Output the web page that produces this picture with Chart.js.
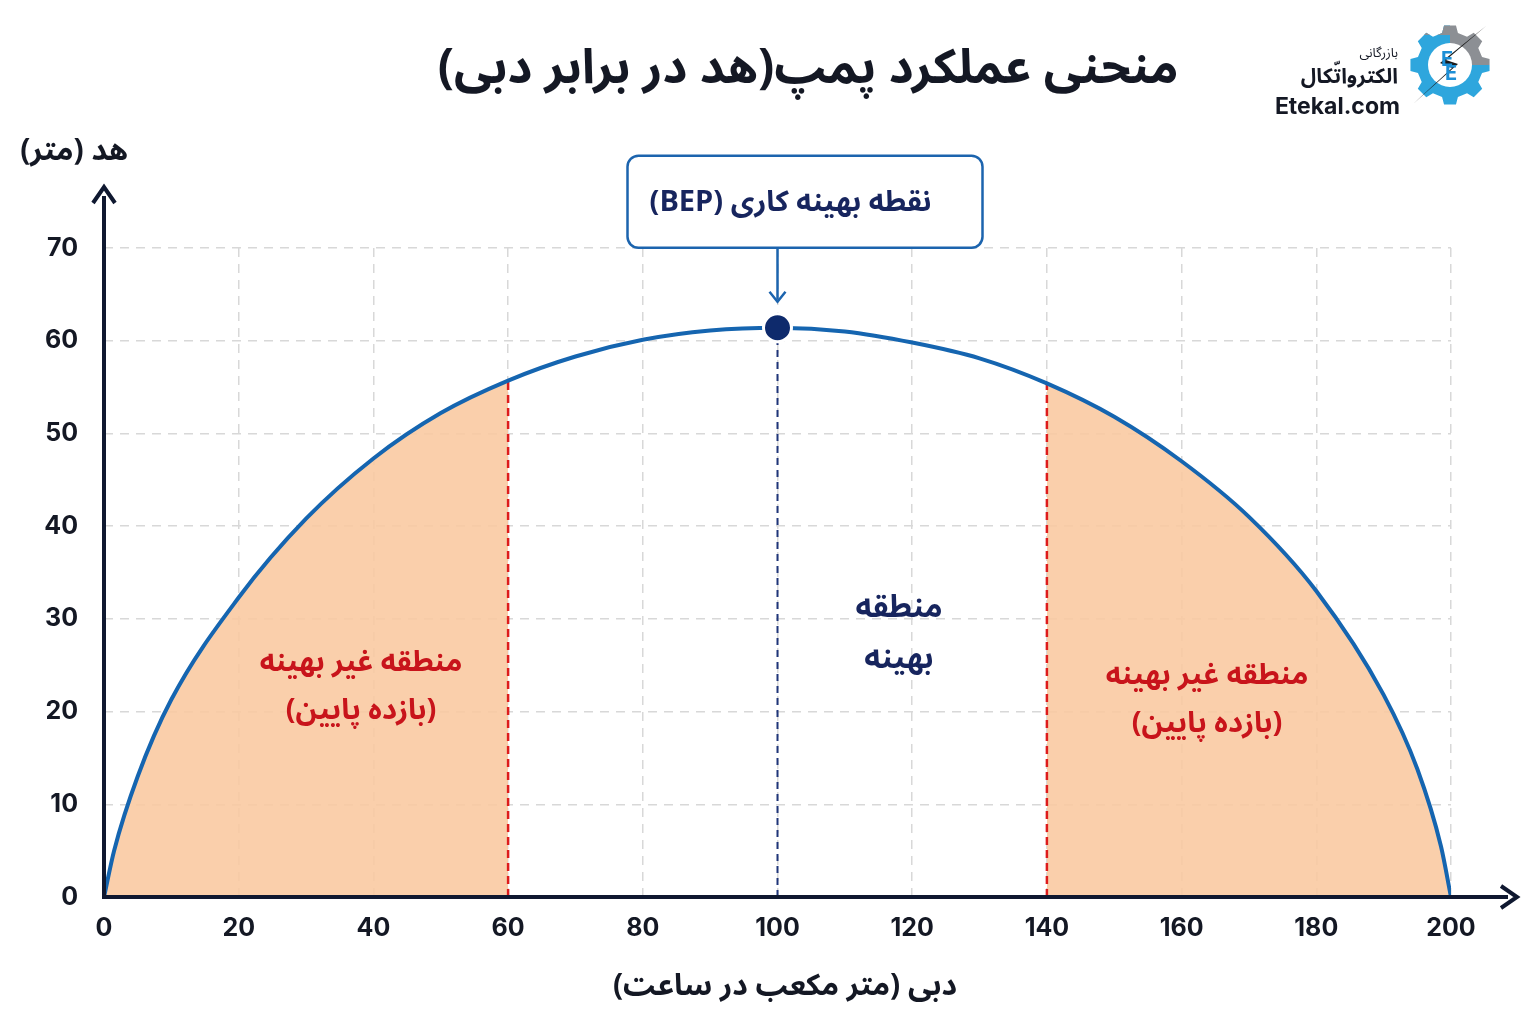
<!DOCTYPE html>
<html lang="fa">
<head>
<meta charset="utf-8">
<title>منحنی عملکرد پمپ</title>
<script src="https://cdn.jsdelivr.net/npm/chart.js@4.4.1/dist/chart.umd.min.js"></script>
<style>
  html, body { margin: 0; padding: 0; background: #fff; }
  canvas { display: block; }
</style>
</head>
<body>
<canvas id="pumpChart" width="1536" height="1024"></canvas>
<script>
// داده‌های منحنی (دبی بر حسب متر مکعب در ساعت، هد بر حسب متر)
const flow = [0, 1.5, 5, 10, 20, 30, 40, 50, 60, 70, 80, 90, 100, 110, 120, 130, 140, 150, 160, 170, 180, 190, 195, 198.5, 200];
const head = [0, 5, 13, 21.3, 32.3, 40.8, 47.3, 52.2, 55.7, 58.3, 60.1, 61.1, 61.4, 61.0, 59.8, 58.1, 55.4, 51.8, 47.0, 41.0, 33.0, 21.8, 13.8, 5.5, 0];

// مناطق
const lowLeft = [0, 60];
const lowRight = [140, 200];
const bepFlow = 100;
const bepHead = 61.4;

// تیک‌ها
const xTicks = [0, 20, 40, 60, 80, 100, 120, 140, 160, 180, 200];
const yTicks = [0, 10, 20, 30, 40, 50, 60, 70];

const curve = flow.map((q, i) => ({ x: q, y: head[i] }));
const inRange = (r) => curve.filter(p => p.x >= r[0] && p.x <= r[1]);
const headAt = (q) => head[flow.indexOf(q)];

const faFont = '"Noto Sans Arabic", "DejaVu Sans", sans-serif';
const numFont = 'Inter, "DejaVu Sans", sans-serif';
const navy = '#17255e';
const ink = '#141824';

const decorations = {
    id: 'decorations',
    afterDatasetsDraw(chart) {
        const { ctx, chartArea, scales } = chart;
        const x0 = chartArea.left, y0 = chartArea.bottom;

        ctx.save();
        // محورها با فلش
        ctx.strokeStyle = '#0f1830';
        ctx.fillStyle = '#0f1830';
        ctx.lineWidth = 4;
        ctx.lineCap = 'butt';
        ctx.beginPath();
        ctx.moveTo(x0, y0 + 2);
        ctx.lineTo(x0, 196);
        ctx.moveTo(x0 - 2, y0);
        ctx.lineTo(1508, y0);
        ctx.stroke();
        ctx.lineJoin = 'miter';
        ctx.beginPath();
        ctx.moveTo(x0 - 11, 203);
        ctx.lineTo(x0, 187);
        ctx.lineTo(x0 + 11, 203);
        ctx.moveTo(1501, y0 - 11);
        ctx.lineTo(1517, y0);
        ctx.lineTo(1501, y0 + 11);
        ctx.stroke();

        // کادر نقطه بهینه
        const px = scales.x.getPixelForValue(bepFlow);
        const py = scales.y.getPixelForValue(bepHead);
        const bx = px - 150, bw = 355, by = py - 172, bh = 92;
        ctx.fillStyle = '#fff';
        ctx.strokeStyle = '#1c64ae';
        ctx.lineWidth = 2.5;
        ctx.beginPath();
        ctx.roundRect(bx, by, bw, bh, 11);
        ctx.fill();
        ctx.stroke();
        ctx.beginPath();
        ctx.moveTo(px, by + bh);
        ctx.lineTo(px, py - 28);
        ctx.stroke();
        ctx.beginPath();
        ctx.moveTo(px - 8, py - 36);
        ctx.lineTo(px, py - 26);
        ctx.lineTo(px + 8, py - 36);
        ctx.stroke();

        ctx.direction = 'rtl';
        ctx.textAlign = 'center';
        ctx.textBaseline = 'middle';
        ctx.fillStyle = navy;
        ctx.font = 'bold 29px ' + faFont;
        ctx.fillText('نقطه بهینه کاری (BEP)', px + 13, by + 51);

        // متن مناطق
        ctx.fillStyle = '#c8141b';
        ctx.font = 'bold 29px ' + faFont;
        ctx.fillText('منطقه غیر بهینه', 361, 667);
        ctx.fillText('(بازده پایین)', 361, 715);
        ctx.fillText('منطقه غیر بهینه', 1207, 680);
        ctx.fillText('(بازده پایین)', 1207, 728);
        ctx.fillStyle = navy;
        ctx.font = 'bold 31px ' + faFont;
        ctx.fillText('منطقه', 899, 612);
        ctx.fillText('بهینه', 899, 663);

        // عنوان‌ها
        ctx.fillStyle = ink;
        ctx.font = 'bold 48px ' + faFont;
        ctx.fillText('منحنی عملکرد پمپ(هد در برابر دبی)', 808, 76);
        ctx.font = 'bold 30px ' + faFont;
        ctx.fillText('هد (متر)', 74, 155);
        ctx.fillText('دبی (متر مکعب در ساعت)', 785, 990);

        // لوگو
        ctx.textAlign = 'right';
        ctx.font = '13px ' + faFont;
        ctx.fillText('بازرگانی', 1398, 55);
        ctx.font = 'bold 21px ' + faFont;
        ctx.fillText('الکترواتّکال', 1398, 80);
        ctx.direction = 'ltr';
        ctx.font = 'bold 23px ' + numFont;
        ctx.fillText('Etekal.com', 1400, 107);

        const gx = 1450, gy = 65;
        ctx.beginPath();
        for (let i = 0; i < 16; i++) {
            const a = i * Math.PI / 8;
            const r = i % 2 === 0 ? 40 : 33;
            ctx.lineTo(gx + r * Math.cos(a - 0.15), gy + r * Math.sin(a - 0.15));
            ctx.lineTo(gx + r * Math.cos(a + 0.15), gy + r * Math.sin(a + 0.15));
        }
        ctx.closePath();
        ctx.save();
        ctx.clip();
        ctx.fillStyle = '#2ea6dd';
        ctx.fillRect(gx - 45, gy - 45, 45, 90);
        ctx.fillRect(gx, gy, 45, 45);
        ctx.fillStyle = '#8c8f94';
        ctx.fillRect(gx, gy - 45, 45, 45);
        ctx.fillRect(gx - 45, gy - 45, 45, 15);
        ctx.restore();
        ctx.fillStyle = '#fff';
        ctx.beginPath();
        ctx.arc(gx, gy, 22, 0, Math.PI * 2);
        ctx.fill();
        ctx.fillStyle = '#1b1b1b';
        ctx.beginPath();
        ctx.moveTo(1486, 26);
        ctx.lineTo(1446, 60);
        ctx.lineTo(1458, 64);
        ctx.lineTo(1413, 104);
        ctx.lineTo(1452, 68);
        ctx.lineTo(1440, 63);
        ctx.closePath();
        ctx.fill();
        ctx.fillStyle = '#1d8fd6';
        ctx.textAlign = 'center';
        ctx.font = 'bold 20px ' + numFont;
        ctx.fillText('E', gx - 3, gy - 5);
        ctx.fillText('E', gx + 1, gy + 9);
        ctx.restore();
    }
};

const tickFont = { family: numFont, size: 25, weight: '700' };
const gridStyle = { color: '#d8d8d8', lineWidth: 1.5, drawTicks: false };

new Chart(document.getElementById('pumpChart'), {
    type: 'line',
    data: {
        datasets: [
            {
                data: [{ x: bepFlow, y: bepHead }],
                pointRadius: 14,
                pointBackgroundColor: '#0e2a6c',
                pointBorderColor: '#ffffff',
                pointBorderWidth: 3,
                showLine: false,
                order: 0
            },
            {
                data: curve,
                borderColor: '#1565b0',
                borderWidth: 4,
                pointRadius: 0,
                cubicInterpolationMode: 'monotone',
                fill: false,
                order: 1
            },
            {
                data: [{ x: bepFlow, y: 0 }, { x: bepFlow, y: bepHead }],
                borderColor: '#1f3579',
                borderWidth: 2,
                borderDash: [7, 5],
                pointRadius: 0,
                order: 2
            },
            {
                data: [{ x: lowLeft[1], y: 0 }, { x: lowLeft[1], y: headAt(lowLeft[1]) }],
                borderColor: '#dd1c1c',
                borderWidth: 2.5,
                borderDash: [8, 5],
                pointRadius: 0,
                order: 2
            },
            {
                data: [{ x: lowRight[0], y: 0 }, { x: lowRight[0], y: headAt(lowRight[0]) }],
                borderColor: '#dd1c1c',
                borderWidth: 2.5,
                borderDash: [8, 5],
                pointRadius: 0,
                order: 2
            },
            {
                data: inRange(lowLeft),
                borderWidth: 0,
                pointRadius: 0,
                cubicInterpolationMode: 'monotone',
                fill: 'origin',
                backgroundColor: 'rgba(249, 202, 162, 0.9)',
                order: 3
            },
            {
                data: inRange(lowRight),
                borderWidth: 0,
                pointRadius: 0,
                cubicInterpolationMode: 'monotone',
                fill: 'origin',
                backgroundColor: 'rgba(249, 202, 162, 0.9)',
                order: 3
            }
        ]
    },
    options: {
        responsive: false,
        animation: false,
        layout: { padding: { top: 248, right: 85, left: 0, bottom: 0 } },
        plugins: {
            legend: { display: false },
            tooltip: { enabled: false }
        },
        scales: {
            x: {
                type: 'linear',
                min: 0,
                max: 200,
                afterBuildTicks: (s) => { s.ticks = xTicks.map(v => ({ value: v })); },
                afterFit: (s) => { s.height = 127; },
                ticks: { color: ink, font: tickFont, padding: 16 },
                grid: gridStyle,
                border: { display: false, dash: [9, 7] }
            },
            y: {
                min: 0,
                max: 70,
                afterBuildTicks: (s) => { s.ticks = yTicks.map(v => ({ value: v })); },
                afterFit: (s) => { s.width = 104; },
                ticks: { color: ink, font: tickFont, padding: 26 },
                grid: gridStyle,
                border: { display: false, dash: [9, 7] }
            }
        }
    },
    plugins: [decorations]
});
</script>
</body>
</html>
